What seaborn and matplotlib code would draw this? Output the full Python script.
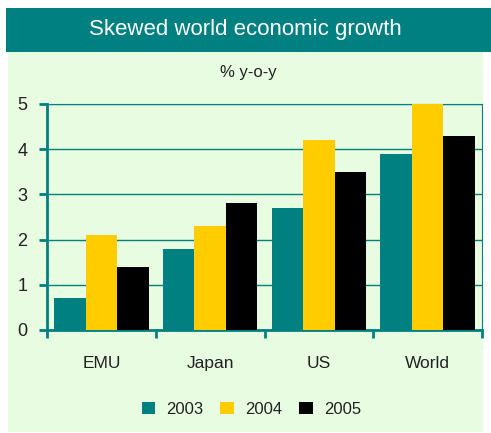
import matplotlib
matplotlib.use("Agg")
import matplotlib.pyplot as plt
import matplotlib.patches as mpatches
import seaborn as sns
import pandas as pd

regions = ["EMU", "Japan", "US", "World"]
years = ["2003", "2004", "2005"]
g2003 = [0.7, 1.8, 2.7, 3.9]
g2004 = [2.1, 2.3, 4.2, 5.0]
g2005 = [1.4, 2.8, 3.5, 4.3]

teal = "#008080"
yellow = "#FFCC00"
bg = "#E8FCE2"

sns.set_theme(style="white")
plt.rcParams["font.family"] = ["Liberation Sans Narrow", "Liberation Sans", "DejaVu Sans"]

df = pd.DataFrame({
    "region": regions * 3,
    "year": [y for y in years for _ in regions],
    "growth": g2003 + g2004 + g2005,
})

fig = plt.figure(figsize=(4.91, 4.33), dpi=100)
fig.patch.set_facecolor("white")

# background panel and title band
fig.patches.append(mpatches.Rectangle((8 / 491, 1 / 433), 475 / 491, 380 / 433,
                                      transform=fig.transFigure, facecolor=bg,
                                      edgecolor="none", zorder=-2))
fig.patches.append(mpatches.Rectangle((6 / 491, 1 - 52 / 433), 485 / 491, 44 / 433,
                                      transform=fig.transFigure, facecolor=teal,
                                      edgecolor="none", zorder=-2))
fig.text(0.5, 1 - 30 / 433, "Skewed world economic growth", color="white",
         fontsize=16, ha="center", va="center")
fig.text(0.505, 1 - 72 / 433, "% y-o-y", color="#222222", fontsize=12,
         ha="center", va="center")

ax = fig.add_axes([47 / 491, 1 - 330 / 433, 435 / 491, 226 / 433])
ax.set_facecolor(bg)
sns.barplot(data=df, x="region", y="growth", hue="year",
            palette=[teal, yellow, "black"], width=0.87, saturation=1,
            edgecolor="none", ax=ax, zorder=3)

ax.set_ylim(0, 5)
ax.set_xlim(-0.5, 3.5)
ax.set_yticks([0, 1, 2, 3, 4, 5])
ax.yaxis.grid(True, color=teal, linewidth=1, zorder=0)
ax.set_axisbelow(True)
ax.set_xlabel("")
ax.set_ylabel("")

for side in ["top", "right"]:
    ax.spines[side].set_color(teal)
    ax.spines[side].set_linewidth(0.8)
for side in ["left", "bottom"]:
    ax.spines[side].set_color(teal)
    ax.spines[side].set_linewidth(2)

ax.tick_params(axis="y", length=6, width=2, color=teal, labelsize=13,
               labelcolor="#222222", pad=8, left=True)
ax.set_xticks([-0.5, 0.5, 1.5, 2.5, 3.5], minor=True)
ax.tick_params(axis="x", which="minor", length=6, width=2, color=teal, bottom=True)
ax.tick_params(axis="x", which="major", length=0, labelsize=12.5,
               labelcolor="#222222", pad=19)

ax.legend(loc="upper center", bbox_to_anchor=(0.47, -0.25), ncol=3, frameon=False,
          fontsize=12, handlelength=0.8, handleheight=0.8, handletextpad=0.7,
          columnspacing=1.0, labelcolor="#222222")

fig.savefig("out.png", dpi=100, facecolor=fig.get_facecolor())
